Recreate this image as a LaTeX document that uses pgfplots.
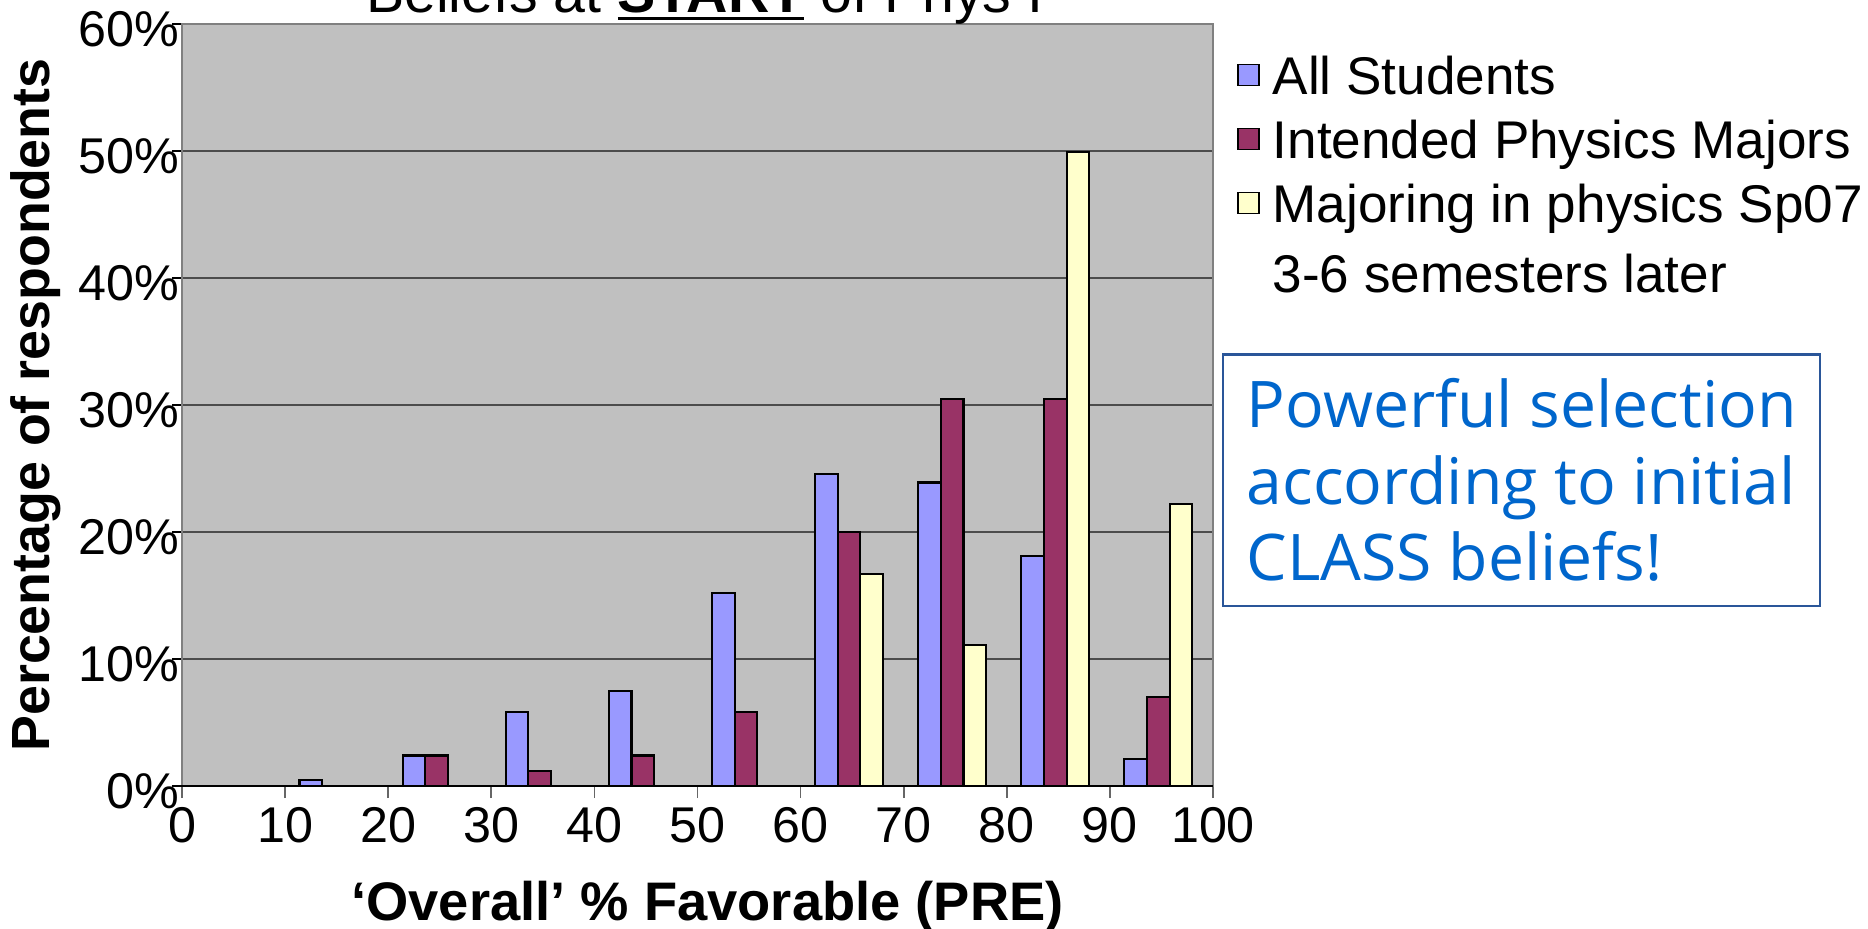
\documentclass[border=0pt]{standalone}
\usepackage{fontspec}
\setmainfont{Liberation Sans}
\newfontfamily\notefont{Open Sans}
\usepackage{pgfplots}
\pgfplotsset{compat=1.18}
\definecolor{allc}{HTML}{9999FF}
\definecolor{intc}{HTML}{993366}
\definecolor{majc}{HTML}{FFFFCC}
\definecolor{bgc}{HTML}{C0C0C0}
\definecolor{notec}{HTML}{0066CC}
\definecolor{boxc}{HTML}{2A5699}
\pgfplotsset{sqlegend/.style={legend image code/.code={\draw[##1,line width=0.5pt] (0mm,-0.55mm) rectangle (2.1mm,1.55mm);}}}
\newcommand{\ul}[1]{\setbox0\hbox{#1}\rlap{\rule[-0.75mm]{\wd0}{0.28mm}}\box0\relax}
\begin{document}
\begin{tikzpicture}
\useasboundingbox (0,0) rectangle (186.8mm,92.8mm);
\clip (0,0) rectangle (186.8mm,92.8mm);
\begin{axis}[
  at={(18.2mm,14.2mm)}, anchor=south west,
  scale only axis, width=103.1mm, height=76.2mm,
  xmin=0, xmax=100, ymin=0, ymax=60,
  xtick={0,10,...,100}, ytick={0,10,...,60},
  xtick pos=bottom, ytick pos=left,
  yticklabel={\pgfmathprintnumber{\tick}\%},
  /pgf/number format/assume math mode=true,
  tick label style={font=\fontsize{14.3}{17}\selectfont},
  xticklabel style={anchor=north, inner sep=0pt, yshift=-0.6mm},
  yticklabel style={anchor=east, inner sep=0pt, xshift=1.3mm, yshift=-0.5mm},
  tick align=outside,
  xtick style={black!60, line width=0.5pt, /pgfplots/major tick length=1.2mm},
  ytick style={black, line width=0.5pt, /pgfplots/major tick length=1.0mm},
  ymajorgrids, grid style={black!70, line width=0.45pt},
  axis line style={black!50, line width=0.6pt},
  axis background/.style={fill=bgc},
  extra y ticks={0}, extra y tick labels={}, extra y tick style={grid style={black, line width=0.8pt}},
  xlabel={‘Overall’ \% Favorable (PRE)},
  every axis x label/.style={font=\bfseries\fontsize{15.45}{18}\selectfont, at={(axis description cs:0.5097,0)}, anchor=base, yshift=-13.4mm},
  ylabel={Percentage of respondents},
  every axis y label/.style={font=\bfseries\fontsize{15.3}{18}\selectfont, at={(axis description cs:-0.142,0.5)}, anchor=center, rotate=90},
  title={Beliefs at \ul{\textbf{START}} of Phys I},
  every axis title/.style={font=\fontsize{16.3}{19}\selectfont, at={(axis description cs:0.507,1)}, anchor=base, yshift=1.2mm},
  legend style={at={(1,1)}, anchor=north west, xshift=2.4mm, yshift=-2.9mm, draw=none, fill=none, inner sep=0pt, outer sep=0pt,
    font=\fontsize{15.1}{18}\selectfont, row sep=1.0mm, column sep=1.3mm,
    nodes={inner sep=0pt, text height=4.1mm, text depth=1.3mm}},
  legend cell align=left,
]
\addplot[ybar, sqlegend, bar width=2.2, bar shift=0pt, fill=allc, draw=black, line width=0.6pt]
  coordinates {(12.5,0.45) (22.5,2.4) (32.5,5.8) (42.5,7.5) (52.5,15.2) (62.5,24.6) (72.5,23.9) (82.5,18.1) (92.5,2.1)};
\addlegendentry{All Students}
\addplot[ybar, sqlegend, bar width=2.2, bar shift=0pt, fill=intc, draw=black, line width=0.6pt]
  coordinates {(24.7,2.4) (34.7,1.2) (44.7,2.4) (54.7,5.8) (64.7,20.0) (74.7,30.5) (84.7,30.5) (94.7,7.0)};
\addlegendentry{Intended Physics Majors}
\addplot[ybar, sqlegend, bar width=2.2, bar shift=0pt, fill=majc, draw=black, line width=0.6pt]
  coordinates {(66.9,16.7) (76.9,11.1) (86.9,49.9) (96.9,22.2)};
\addlegendentry{Majoring in physics Sp07}
\addlegendimage{empty legend}
\addlegendentry{\raisebox{-0.6mm}{3-6 semesters later}}
\end{axis}
\draw[boxc, line width=0.6pt] (122.3mm,32.2mm) rectangle (182.0mm,57.35mm);
\begin{scope}[every node/.style={anchor=base west, inner sep=0pt, text=notec, font=\notefont\fontsize{18.3}{22}\selectfont}]
\node at (124.6mm,50.1mm) {Powerful selection};
\node at (124.6mm,42.4mm) {according to initial};
\node at (124.6mm,34.8mm) {CLASS beliefs!};
\end{scope}
\end{tikzpicture}
\end{document}
